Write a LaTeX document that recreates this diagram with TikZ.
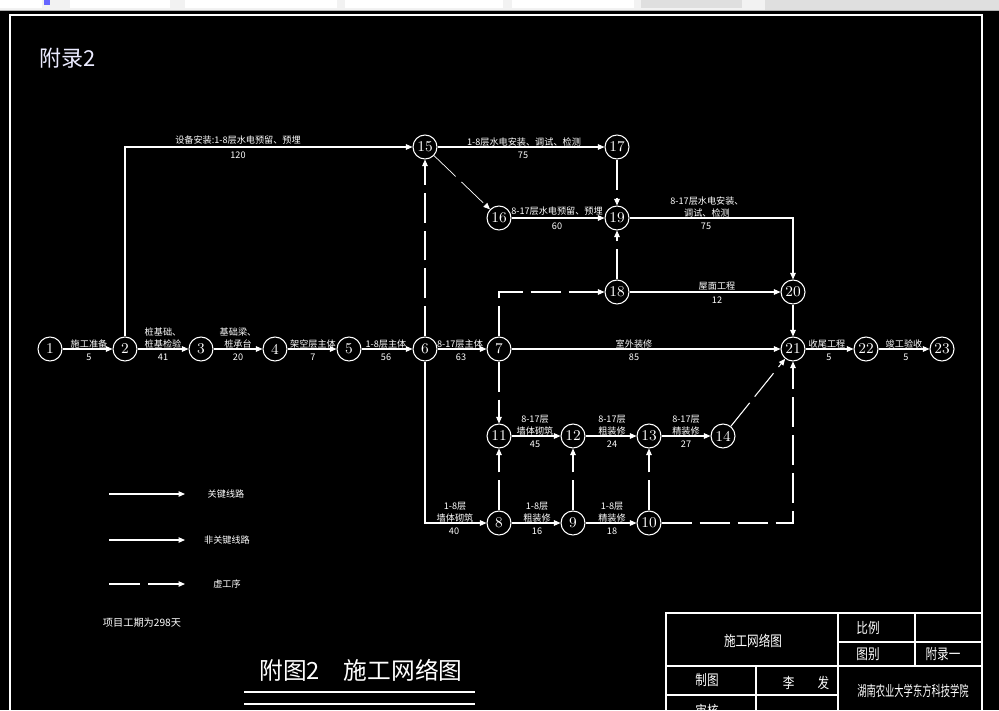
\documentclass[tikz,border=0pt]{standalone}
\usepackage{fontspec}
\newfontfamily\cjk{Noto Sans CJK SC}
\usetikzlibrary{arrows.meta}

\begin{document}
\begin{tikzpicture}[x=0.02cm,y=-0.02cm,
    every node/.style={text=white,inner sep=0pt},
    ev/.style={draw=white,line width=0.6pt,circle,minimum size=0.48cm,
      font=\fontsize{8.5}{9}\selectfont},
    lab/.style={font=\cjk\fontsize{5.2}{6.6}\selectfont,align=center},
    tb/.style={font=\cjk\fontsize{6.6}{8}\selectfont,yscale=1.25},
    act/.style={draw=white,line width=0.6pt,-{Triangle[length=0.13cm,width=0.11cm]}},
    virt/.style={act,dash pattern=on 0.6cm off 0.16cm}]
  \useasboundingbox (0,0) rectangle (999,710);
  \fill[black] (0,0) rectangle (999,710);
  % window strip at the top
  \fill[gray!10] (0,0) rectangle (999,10);
  \fill[gray!25] (765,0) rectangle (999,10);
  \draw[gray!60] (0,10.5) -- (999,10.5);
  \fill[white] (0,0) rectangle (42,8);
  \fill[blue!60] (44,0) rectangle (50,5);
  \fill[white] (70,0) rectangle (170,8);
  \fill[white] (185,0) rectangle (337,8);
  \fill[white] (345,0) rectangle (503,8);
  \fill[white] (512,0) rectangle (634,8);
  \fill[gray!25] (641,0) rectangle (742,8);
  % drawing frame
  \draw[white,line width=0.6pt] (10,712) -- (10,15) -- (982,15) -- (982,712);
  \node[font=\cjk\fontsize{12.5}{14}\selectfont,text=blue!8] (app) at (68,58) {附录2};

  % events
  \foreach \n/\x/\y in {1/50/349,2/125/349,3/201/349,4/275/349,5/349/349,
      6/425/349,7/499/349,8/499/523,9/573/523,10/649/523,11/499/436,
      12/573/436,13/649/436,14/723/436,15/425/147,16/499/218,17/617/147,
      18/617/292,19/617/218,20/793/292,21/793/349,22/866/349,23/942/349}
    \node[ev] (n\n) at (\x,\y) {\n};

  % real activities
  \foreach \a/\b in {1/2,2/3,3/4,4/5,5/6,6/7,7/21,21/22,22/23,15/17,16/19,
      18/20,20/21,8/9,9/10,11/12,12/13,13/14}
    \draw[act] (n\a) -- (n\b);
  \draw[act] (n2) |- (n15);
  \draw[act] (n6) |- (n8);
  \draw[act] (n19) -| (n20);

  % dummy activities
  \foreach \a/\b in {6/15,17/19,18/19,7/11,8/11,9/12,10/13,14/21}
    \draw[virt] (n\a) -- (n\b);
  \draw[virt,line width=0.4pt] (n15) -- (n16);
  \draw[virt] (n7) |- (n18);
  \draw[virt] (n10) -| (n21);

  % activity names and durations
  \node[lab] (t2a) at (238,140) {设备安装:1-8层水电预留、预埋};
  \node[lab] (d2a) at (238,155) {120};
  \node[lab] (t15) at (524,142) {1-8层水电安装、调试、检测};
  \node[lab] (d15) at (523,155) {75};
  \node[lab] (t16) at (557,211) {8-17层水电预留、预埋};
  \node[lab] (d16) at (557,226) {60};
  \node[lab] (t19) at (707,207) {8-17层水电安装、\\调试、检测};
  \node[lab] (d19) at (706,226) {75};
  \node[lab] (t18) at (717,286) {屋面工程};
  \node[lab] (d18) at (717,300) {12};
  \node[lab] (t1) at (89,344) {施工准备};
  \node[lab] (d1) at (89,357) {5};
  \node[lab] (t2) at (163,338) {桩基础、\\桩基检验};
  \node[lab] (d2) at (163,357) {41};
  \node[lab] (t3) at (238,338) {基础梁、\\桩承台};
  \node[lab] (d3) at (238,357) {20};
  \node[lab] (t4) at (313,344) {架空层主体};
  \node[lab] (d4) at (313,357) {7};
  \node[lab] (t5) at (386,344) {1-8层主体};
  \node[lab] (d5) at (386,357) {56};
  \node[lab] (t6) at (460,344) {8-17层主体};
  \node[lab] (d6) at (461,357) {63};
  \node[lab] (t7) at (634,344) {室外装修};
  \node[lab] (d7) at (634,357) {85};
  \node[lab] (t21) at (827,344) {收尾工程};
  \node[lab] (d21) at (829,357) {5};
  \node[lab] (t22) at (904,344) {竣工验收};
  \node[lab] (d22) at (906,357) {5};
  \node[lab] (t11) at (535,425) {8-17层\\墙体砌筑};
  \node[lab] (d11) at (535,444) {45};
  \node[lab] (t12) at (612,425) {8-17层\\粗装修};
  \node[lab] (d12) at (612,444) {24};
  \node[lab] (t13) at (686,425) {8-17层\\精装修};
  \node[lab] (d13) at (686,444) {27};
  \node[lab] (t6b) at (455,512) {1-8层\\墙体砌筑};
  \node[lab] (d6b) at (454,531) {40};
  \node[lab] (t8) at (537,512) {1-8层\\粗装修};
  \node[lab] (d8) at (537,531) {16};
  \node[lab] (t9) at (612,512) {1-8层\\精装修};
  \node[lab] (d9) at (612,531) {18};

  % legend
  \coordinate (k1) at (109,494); \coordinate (k2) at (185,494);
  \coordinate (k3) at (109,540); \coordinate (k4) at (185,540);
  \coordinate (k5) at (109,584); \coordinate (k6) at (140,584);
  \coordinate (k7) at (148,584); \coordinate (k8) at (185,584);
  \draw[act] (k1) -- (k2);
  \draw[act] (k3) -- (k4);
  \draw[white,line width=0.6pt] (k5) -- (k6);
  \draw[act] (k7) -- (k8);
  \node[lab] (g1) at (226,494) {关键线路};
  \node[lab] (g2) at (227,540) {非关键线路};
  \node[lab] (g3) at (227,584) {虚工序};
  \node[lab,font=\cjk\fontsize{5.8}{7}\selectfont] (dur) at (142,623) {项目工期为298天};

  % title and underlines
  \node[font=\cjk\fontsize{13.5}{15}\selectfont] (ttl) at (361,670) {附图2\quad 施工网络图};
  \draw[white,line width=0.6pt] (244,692) -- (475,692) (244,704) -- (475,704);

  % title block
  \draw[white,line width=0.6pt] (666,712) -- (666,613) -- (982,613);
  \draw[white,line width=0.6pt] (838,613) -- (838,712) (915,613) -- (915,666)
    (838,642) -- (982,642) (666,666) -- (982,666) (756,666) -- (756,712)
    (666,695) -- (838,695);
  \node[tb] (b1) at (753,641) {施工网络图};
  \node[tb] (b2) at (868,628) {比例};
  \node[tb] (b3) at (868,654) {图别};
  \node[tb] (b4) at (943,654) {附录一};
  \node[tb] (b5) at (707,680) {制图};
  \node[tb] (b6) at (806,683) {李\qquad 发};
  \node[tb,xscale=0.8] (b7) at (913,691) {湖南农业大学东方科技学院};
  \node[tb] (b8) at (707,711) {审核};
\end{tikzpicture}
\end{document}
